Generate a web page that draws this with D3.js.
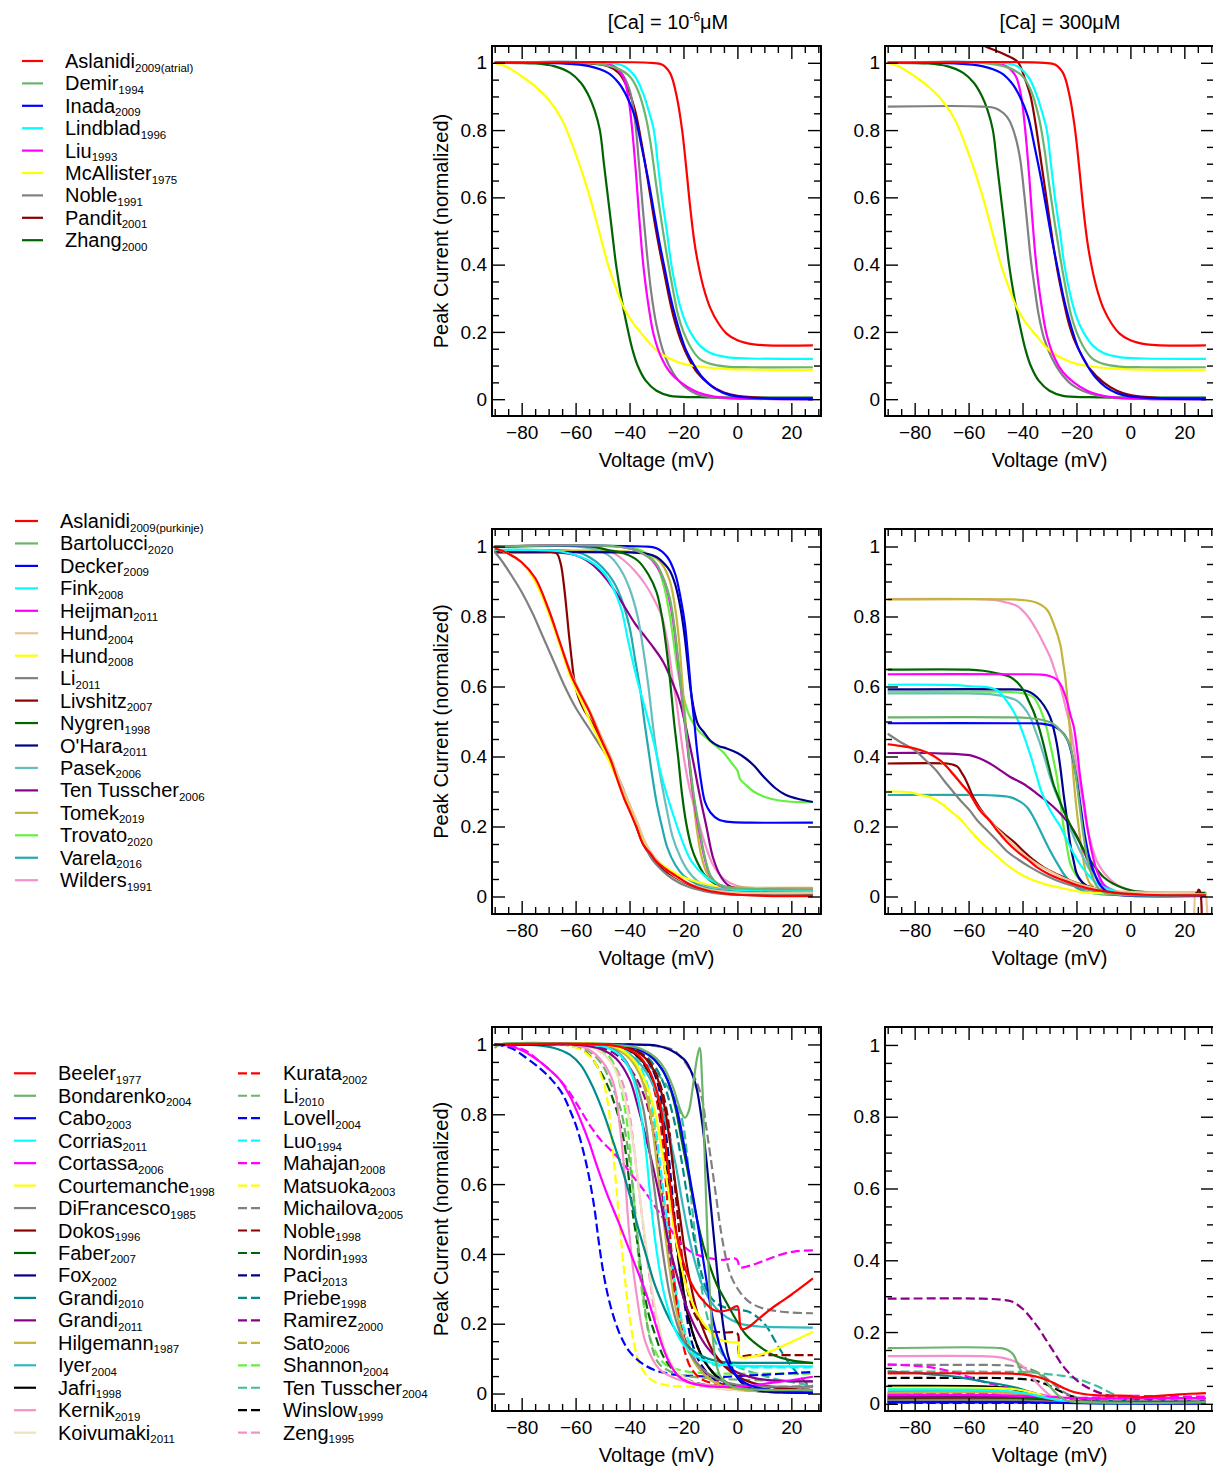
<!DOCTYPE html>
<html>
<head>
<meta charset="utf-8">
<style>
  body { margin: 0; background: #fff; overflow: hidden; }
  svg { display: block; font-family: "Liberation Sans", Arial, Helvetica, sans-serif; }
  .tick line { stroke: #000; stroke-width: 1.4px; }
  .tick text { font-size: 19px; fill: #000; font-family: "Liberation Sans", Arial, Helvetica, sans-serif; }
  .domain { display: none; }
  .frame { fill: none; stroke: #000; stroke-width: 2px; }
  .curve { fill: none; stroke-width: 2.2px; }
  .lbl { font-size: 20px; fill: #000; }
</style>
</head>
<body>
<script src="https://d3js.org/d3.v7.min.js"></script>
<script>
// ---------- legends ----------
var atrialNames = ["Aslanidi","Demir","Inada","Lindblad","Liu","McAllister","Noble","Pandit","Zhang"];
var atrialYears = ["2009(atrial)","1994","2009","1996","1993","1975","1991","2001","2000"];
var atrialColors = ["#ff0000","#6cb36c","#0000ff","#00ffff","#ff00ff","#ffff00","#808080","#8b0000","#006400"];

var purkNames = ["Aslanidi","Bartolucci","Decker","Fink","Heijman","Hund","Hund","Li","Livshitz","Nygren","O'Hara","Pasek","Ten Tusscher","Tomek","Trovato","Varela","Wilders"];
var purkYears = ["2009(purkinje)","2020","2009","2008","2011","2004","2008","2011","2007","1998","2011","2006","2006","2019","2020","2016","1991"];
var purkColors = ["#ff0000","#6cb36c","#0000ff","#00ffff","#ff00ff","#e6c796","#ffff00","#808080","#8b0000","#006400","#00008b","#66bebe","#8b008b","#c3b43c","#64f03c","#22aab0","#f591c8"];

var ventNames = ["Beeler","Bondarenko","Cabo","Corrias","Cortassa","Courtemanche","DiFrancesco","Dokos","Faber","Fox","Grandi","Grandi","Hilgemann","Iyer","Jafri","Kernik","Koivumaki",
  "Kurata","Li","Lovell","Luo","Mahajan","Matsuoka","Michailova","Noble","Nordin","Paci","Priebe","Ramirez","Sato","Shannon","Ten Tusscher","Winslow","Zeng"];
var ventYears = ["1977","2004","2003","2011","2006","1998","1985","1996","2007","2002","2010","2011","1987","2004","1998","2019","2011",
  "2002","2010","2004","1994","2008","2003","2005","1998","1993","2013","1998","2000","2006","2004","2004","1999","1995"];
var ventColors = ["#ff0000","#6cb36c","#0000ff","#00ffff","#ff00ff","#ffff00","#808080","#8b0000","#006400","#00008b","#008b8b","#8b008b","#c3b43c","#33b8c0","#000000","#f591c8","#f2dfc0",
  "#ff0000","#6cb36c","#0000ff","#00ffff","#ff00ff","#ffff00","#808080","#8b0000","#006400","#00008b","#008b8b","#8b008b","#c3b43c","#64f03c","#3cbf9c","#000000","#f591c8"];
var ventDashed = [0,0,0,0,0,0,0,0,0,0,0,0,0,0,0,0,0, 1,1,1,1,1,1,1,1,1,1,1,1,1,1,1,1,1];

var xMajor = [-80,-60,-40,-20,0,20];
var xMinor = [-90,-85,-75,-70,-65,-55,-50,-45,-35,-30,-25,-15,-10,-5,5,10,15,25,30];
var yMajor = [0,0.2,0.4,0.6,0.8,1];
var yMinor = [0.05,0.1,0.15,0.25,0.3,0.35,0.45,0.5,0.55,0.65,0.7,0.75,0.85,0.9,0.95];

// ---------- row 1: atrial ----------
var atrialLowCa = [
  [[-90,1],[-32,1],[-28,0.995],[-25,0.97],[-22.5,0.9],[-20.5,0.8],[-19,0.69],[-17.5,0.57],[-16,0.47],[-14.5,0.4],[-12.5,0.33],[-10,0.27],[-7,0.225],[-4,0.195],[0,0.175],[6,0.163],[28,0.16]],
  [[-90,1],[-55,1],[-45,0.985],[-40,0.96],[-37,0.92],[-34,0.84],[-32,0.75],[-30,0.63],[-28,0.52],[-26,0.42],[-24,0.33],[-22,0.25],[-20,0.2],[-17,0.15],[-14,0.12],[-10,0.105],[-4,0.097],[5,0.095],[28,0.095]],
  [[-90,1],[-65,0.998],[-55,0.99],[-48,0.97],[-44,0.94],[-41,0.9],[-38,0.84],[-35.5,0.75],[-33,0.65],[-31,0.56],[-29,0.47],[-27,0.39],[-25,0.31],[-23,0.245],[-21,0.19],[-19,0.145],[-16,0.1],[-13,0.065],[-9,0.035],[-5,0.018],[0,0.008],[10,0.002],[28,0]],
  [[-90,1],[-48,1],[-42,0.99],[-38,0.96],[-35,0.91],[-33,0.86],[-31,0.8],[-29.5,0.7],[-28,0.6],[-26,0.49],[-24.5,0.4],[-22,0.3],[-20,0.245],[-17.5,0.2],[-14,0.16],[-10,0.137],[-4,0.125],[5,0.121],[28,0.12]],
  [[-90,1],[-52,1],[-46,0.99],[-42.5,0.96],[-40.5,0.9],[-39,0.8],[-37.5,0.66],[-36.5,0.55],[-35.5,0.45],[-34.5,0.37],[-33,0.28],[-31,0.19],[-28,0.12],[-25,0.08],[-21,0.05],[-16,0.025],[-10,0.01],[-3,0.003],[5,0.001],[28,0]],
  [[-90,1],[-86,0.99],[-80,0.96],[-75,0.93],[-70,0.89],[-65,0.83],[-60,0.73],[-57,0.66],[-54,0.58],[-51,0.49],[-48,0.4],[-45,0.33],[-42,0.27],[-39,0.23],[-35,0.19],[-30,0.145],[-25,0.12],[-20,0.105],[-12,0.095],[-5,0.09],[5,0.088],[28,0.087]],
  [[-90,1],[-55,1],[-47,0.995],[-43,0.97],[-40,0.92],[-38,0.83],[-36.5,0.7],[-35,0.56],[-33.5,0.43],[-32,0.32],[-30,0.22],[-27,0.13],[-24,0.08],[-20,0.04],[-15,0.015],[-8,0.005],[5,0.001],[28,0]],
  [[-90,1],[-55,0.998],[-48,0.99],[-44,0.97],[-41,0.93],[-38,0.86],[-35.5,0.76],[-33,0.64],[-31,0.54],[-29,0.45],[-27,0.37],[-25,0.29],[-23,0.225],[-21,0.175],[-18,0.12],[-15,0.08],[-10,0.042],[-5,0.02],[0,0.01],[10,0.004],[28,0.002]],
  [[-90,1],[-75,0.998],[-68,0.99],[-62,0.97],[-58,0.94],[-55,0.9],[-53,0.86],[-51,0.8],[-49.5,0.7],[-48,0.6],[-46.5,0.5],[-45,0.4],[-43,0.3],[-41,0.22],[-39,0.15],[-37,0.1],[-34,0.055],[-30,0.025],[-25,0.01],[-15,0.006],[28,0.005]]
];
var nobleHighCa = [[-90,0.87],[-55,0.87],[-50,0.865],[-47,0.85],[-45,0.83],[-43,0.79],[-41,0.72],[-39.5,0.62],[-38,0.5],[-37,0.42],[-35.5,0.33],[-34,0.25],[-32,0.18],[-29,0.12],[-26,0.08],[-22,0.045],[-16,0.02],[-8,0.006],[5,0.001],[28,0]];
var panditHighCa = [[-90,1.2],[-70,1.13],[-60,1.08],[-54,1.05],[-48,1.03],[-44,1.015],[-41.5,1],[-39,0.95],[-37,0.9],[-35,0.81],[-33,0.7],[-31,0.59],[-29,0.48],[-27,0.38],[-25,0.3],[-23,0.23],[-21,0.18],[-18,0.13],[-15,0.09],[-10,0.05],[-5,0.025],[0,0.012],[10,0.004],[28,0.002]];
var atrialHighCa = atrialLowCa.map(function(s, i) { return i === 6 ? nobleHighCa : i === 7 ? panditHighCa : s; });

// ---------- row 2: purkinje ----------
var purkLowCa = [
  [[-90,0.995],[-85,0.98],[-80,0.955],[-75,0.91],[-70,0.82],[-66,0.73],[-61.5,0.63],[-58,0.575],[-55,0.53],[-50,0.44],[-47,0.39],[-45,0.345],[-42,0.28],[-40,0.245],[-37.5,0.2],[-35,0.15],[-32,0.12],[-30,0.1],[-26,0.075],[-22,0.055],[-17,0.032],[-11,0.017],[-5,0.009],[0,0.005],[10,0.002],[28,0.001]],
  [[-90,1],[-45,1],[-38,0.99],[-33,0.97],[-30,0.95],[-27,0.9],[-25,0.85],[-23.5,0.78],[-22,0.68],[-20.5,0.57],[-19,0.47],[-17.5,0.37],[-16,0.28],[-14,0.19],[-12,0.11],[-10,0.06],[-7,0.035],[-3,0.025],[5,0.022],[28,0.02]],
  [[-90,1],[-35,1],[-30,0.995],[-26,0.97],[-23,0.92],[-21,0.85],[-19.5,0.78],[-18,0.66],[-17,0.57],[-16,0.5],[-15,0.42],[-13.5,0.33],[-12,0.27],[-10,0.24],[-7,0.22],[-3,0.213],[5,0.211],[28,0.211]],
  [[-90,0.99],[-75,0.99],[-65,0.985],[-58,0.97],[-53,0.95],[-49,0.92],[-46,0.88],[-43,0.82],[-40.5,0.73],[-37.5,0.63],[-34,0.53],[-31,0.44],[-28,0.34],[-24.5,0.25],[-20,0.15],[-17,0.1],[-12,0.058],[-7,0.035],[-2,0.022],[5,0.018],[28,0.016]],
  [[-90,1],[-45,1],[-38,0.99],[-33,0.97],[-30,0.945],[-27,0.9],[-25,0.84],[-23.5,0.77],[-22,0.67],[-20.5,0.56],[-19,0.46],[-17.5,0.36],[-16,0.27],[-14,0.18],[-12,0.105],[-10,0.058],[-7,0.033],[-3,0.024],[5,0.021],[28,0.02]],
  [[-90,0.995],[-85,0.98],[-80,0.955],[-75,0.91],[-70,0.82],[-66,0.73],[-61.5,0.635],[-58,0.58],[-55,0.535],[-50,0.45],[-47,0.4],[-45,0.36],[-42,0.3],[-39.5,0.255],[-37,0.21],[-34.5,0.16],[-31.5,0.12],[-28,0.088],[-24,0.062],[-19,0.04],[-12,0.022],[-5,0.014],[5,0.01],[28,0.01]],
  [[-90,0.995],[-85,0.98],[-80,0.955],[-75,0.9],[-70,0.81],[-66,0.72],[-62,0.63],[-58,0.56],[-54,0.49],[-50,0.425],[-46,0.36],[-43,0.305],[-40,0.25],[-37,0.195],[-34,0.145],[-30,0.105],[-25,0.075],[-20,0.055],[-14,0.04],[-8,0.03],[0,0.024],[10,0.022],[28,0.021]],
  [[-90,0.985],[-87,0.955],[-84,0.92],[-80,0.87],[-76,0.81],[-72,0.74],[-68,0.67],[-64,0.6],[-60,0.54],[-55,0.48],[-50,0.42],[-46,0.37],[-43,0.32],[-41,0.28],[-39,0.24],[-37,0.2],[-35,0.16],[-32,0.11],[-28,0.075],[-24,0.05],[-18,0.027],[-10,0.012],[0,0.005],[28,0.002]],
  [[-90,0.985],[-70,0.985],[-67,0.98],[-65.5,0.95],[-64.5,0.9],[-63.5,0.83],[-62.5,0.75],[-61.5,0.68],[-60.5,0.62],[-59,0.57],[-57,0.535],[-55,0.51],[-52,0.47],[-50,0.44],[-47,0.39],[-45,0.35],[-42,0.29],[-40,0.25],[-37.5,0.2],[-35,0.15],[-32,0.115],[-28,0.08],[-22,0.05],[-15,0.025],[-8,0.012],[0,0.006],[28,0.003]],
  [[-90,1],[-55,1],[-48,0.99],[-42,0.98],[-37,0.96],[-33,0.92],[-30,0.87],[-28,0.8],[-26.5,0.72],[-25,0.62],[-23.5,0.5],[-22,0.4],[-20.5,0.29],[-19,0.21],[-17,0.14],[-15,0.1],[-12,0.06],[-8,0.035],[-3,0.025],[5,0.022],[28,0.02]],
  [[-90,0.983],[-40,0.983],[-34,0.98],[-30,0.97],[-27,0.95],[-25,0.93],[-23,0.89],[-21,0.82],[-19.5,0.74],[-18.5,0.67],[-17.5,0.6],[-16,0.53],[-14.5,0.49],[-12.5,0.47],[-10,0.445],[-7,0.43],[-4,0.423],[0,0.41],[3,0.395],[6,0.375],[10,0.34],[14,0.31],[18,0.29],[22,0.28],[28,0.27]],
  [[-90,1],[-60,1],[-52,0.99],[-47,0.97],[-43,0.93],[-40,0.88],[-37,0.8],[-35,0.71],[-33,0.6],[-31.5,0.5],[-30,0.41],[-28,0.32],[-26,0.24],[-24,0.17],[-21,0.11],[-18,0.07],[-14,0.04],[-8,0.025],[0,0.02],[28,0.02]],
  [[-90,0.99],[-70,0.985],[-60,0.975],[-54,0.95],[-50,0.92],[-46,0.88],[-42,0.83],[-38,0.78],[-35,0.75],[-31,0.71],[-27.5,0.67],[-24,0.61],[-21.5,0.56],[-19,0.48],[-16.5,0.39],[-14,0.29],[-11.5,0.2],[-9,0.11],[-6,0.055],[-3,0.03],[2,0.02],[28,0.015]],
  [[-90,0.985],[-40,0.985],[-32,0.975],[-28,0.95],[-25,0.9],[-23,0.82],[-21.5,0.72],[-20.3,0.6],[-19,0.48],[-17.7,0.37],[-16.3,0.27],[-15,0.19],[-13.5,0.12],[-11.5,0.07],[-9,0.042],[-5,0.03],[0,0.026],[28,0.025]],
  [[-90,1],[-42,1],[-36,0.99],[-32,0.97],[-29,0.93],[-27,0.88],[-25,0.8],[-23.5,0.72],[-22,0.64],[-20,0.57],[-18,0.52],[-16,0.49],[-14,0.47],[-11,0.45],[-8,0.43],[-5,0.41],[-2,0.38],[0,0.36],[1,0.335],[3,0.32],[6,0.3],[10,0.285],[15,0.275],[22,0.27],[28,0.27]],
  [[-90,0.99],[-70,0.99],[-60,0.985],[-55,0.97],[-50,0.94],[-46,0.9],[-43,0.85],[-40,0.77],[-38,0.68],[-36,0.59],[-34.5,0.5],[-33,0.42],[-31.5,0.34],[-30,0.27],[-28,0.2],[-26,0.14],[-23,0.09],[-20,0.06],[-15,0.035],[-10,0.022],[0,0.015],[28,0.012]],
  [[-90,1],[-55,1],[-48,0.99],[-42,0.96],[-38,0.93],[-34,0.89],[-31,0.85],[-28,0.8],[-26,0.73],[-24,0.62],[-22.5,0.55],[-21,0.46],[-19.5,0.38],[-17.5,0.3],[-15,0.23],[-12,0.15],[-9,0.09],[-5,0.05],[0,0.03],[10,0.022],[28,0.02]]
];
var purkHighCa = [
  [[-90,0.435],[-85,0.43],[-80,0.423],[-75,0.41],[-70.7,0.39],[-68,0.37],[-65.8,0.35],[-62.5,0.32],[-59.6,0.294],[-55.8,0.246],[-52,0.215],[-49.6,0.19],[-46,0.158],[-42.2,0.13],[-38,0.105],[-34.7,0.084],[-30,0.063],[-24.8,0.046],[-20,0.033],[-14.9,0.022],[-8,0.013],[-2.5,0.008],[5,0.005],[28,0.003]],
  [[-90,0.512],[-45,0.512],[-38,0.51],[-33,0.505],[-29,0.495],[-26,0.475],[-23.5,0.45],[-22,0.42],[-20.5,0.36],[-19,0.27],[-17.5,0.18],[-16,0.11],[-14.5,0.065],[-12.5,0.03],[-10,0.012],[-5,0.005],[28,0.004]],
  [[-90,0.495],[-40,0.495],[-33,0.494],[-29,0.488],[-26,0.475],[-23.5,0.45],[-21.5,0.4],[-20,0.34],[-18.5,0.26],[-17,0.18],[-15.5,0.12],[-13.5,0.07],[-11,0.03],[-8,0.01],[-3,0.003],[28,0.002]],
  [[-90,0.605],[-65,0.604],[-58,0.6],[-53,0.598],[-49.6,0.59],[-46.5,0.565],[-43.4,0.53],[-41,0.49],[-38.5,0.437],[-36.5,0.39],[-34.7,0.342],[-33,0.3],[-31,0.265],[-28.5,0.23],[-26,0.2],[-23.5,0.16],[-21,0.122],[-18.5,0.09],[-16,0.065],[-13,0.042],[-10,0.027],[-6,0.014],[0,0.006],[28,0.004]],
  [[-90,0.635],[-40,0.635],[-33,0.634],[-30,0.63],[-27.3,0.62],[-25.5,0.6],[-23.6,0.56],[-22.3,0.52],[-21,0.485],[-19.8,0.42],[-18.6,0.34],[-17.3,0.27],[-16,0.2],[-14.5,0.135],[-12.5,0.075],[-10,0.035],[-7.5,0.017],[-4,0.008],[28,0.005]],
  [[-90,0.435],[-85,0.43],[-80,0.424],[-75,0.41],[-71,0.39],[-68,0.37],[-65.5,0.35],[-62.5,0.32],[-59.5,0.29],[-56,0.25],[-52,0.215],[-49,0.19],[-45,0.16],[-41,0.13],[-37,0.105],[-33,0.085],[-28,0.065],[-23,0.047],[-18,0.033],[-12,0.022],[-5,0.015],[5,0.012],[15,0.012],[22,0.012],[23.2,0.012],[23.6,0.012],[24,-0.3],[27.7,-0.3],[28,0.012]],
  [[-90,0.3],[-82,0.298],[-78,0.29],[-74.4,0.284],[-70,0.265],[-67,0.246],[-63,0.22],[-59.6,0.19],[-56,0.16],[-52,0.132],[-48,0.105],[-44.7,0.084],[-41,0.065],[-37.2,0.05],[-32,0.036],[-27.3,0.027],[-22,0.018],[-17.4,0.012],[-10,0.009],[-6,0.008],[28,0.006]],
  [[-90,0.465],[-85,0.44],[-80,0.418],[-76,0.39],[-72,0.36],[-69,0.33],[-65.8,0.3],[-62.5,0.27],[-59.6,0.246],[-56.5,0.215],[-53.3,0.19],[-49.5,0.16],[-45.9,0.13],[-41.5,0.105],[-37.2,0.084],[-32,0.062],[-27.3,0.046],[-22,0.032],[-17.4,0.022],[-12,0.014],[-6.2,0.008],[5,0.004],[28,0.003]],
  [[-90,0.38],[-68,0.38],[-66,0.377],[-64,0.37],[-62.7,0.355],[-61.5,0.34],[-60,0.315],[-58.3,0.284],[-56,0.255],[-53.3,0.227],[-50,0.2],[-47,0.18],[-43,0.155],[-39.7,0.13],[-36,0.105],[-32.3,0.084],[-27,0.063],[-22.3,0.046],[-17,0.032],[-12.4,0.022],[-6,0.013],[0,0.008],[10,0.006],[20,0.006],[23.5,0.006],[24.5,0.006],[25.3,0.02],[25.9,0.013],[26.2,-0.3]],
  [[-90,0.648],[-60,0.648],[-54.6,0.645],[-49.5,0.638],[-44.7,0.628],[-42,0.612],[-39.7,0.59],[-37.8,0.56],[-36,0.53],[-34,0.485],[-32.3,0.437],[-30.5,0.38],[-28.5,0.32],[-26.5,0.28],[-24.8,0.246],[-22.3,0.205],[-19.9,0.17],[-17.4,0.135],[-14.9,0.103],[-12.4,0.077],[-9.9,0.055],[-6.5,0.037],[-3.7,0.027],[1,0.016],[6,0.012],[28,0.01]],
  [[-90,0.592],[-45,0.592],[-40,0.59],[-37,0.583],[-34.7,0.57],[-32,0.545],[-29.8,0.513],[-28.5,0.48],[-27.3,0.437],[-26,0.37],[-24.8,0.294],[-23.5,0.22],[-22.3,0.15],[-21,0.1],[-19.9,0.065],[-18,0.042],[-16.1,0.03],[-14.5,0.025]],
  [[-90,0.58],[-60,0.58],[-52,0.578],[-47,0.572],[-42.2,0.56],[-39.5,0.54],[-37.2,0.513],[-35.3,0.475],[-33.5,0.437],[-31.6,0.39],[-29.8,0.342],[-27.3,0.29],[-24.8,0.246],[-22.3,0.195],[-19.9,0.15],[-17.4,0.11],[-14.9,0.074],[-11.8,0.047],[-8.7,0.027],[-4,0.012],[0,0.007],[28,0.005]],
  [[-90,0.41],[-75,0.41],[-68,0.408],[-63,0.406],[-59.6,0.404],[-56,0.395],[-52.1,0.38],[-48.5,0.362],[-44.7,0.342],[-39.7,0.322],[-34.7,0.294],[-29.8,0.265],[-24.8,0.227],[-21.1,0.19],[-19.2,0.162],[-17.4,0.132],[-15.5,0.097],[-13.6,0.065],[-11.2,0.036],[-8.7,0.017],[-5,0.008],[0,0.005],[28,0.004]],
  [[-90,0.849],[-45,0.849],[-39.7,0.847],[-35,0.84],[-31,0.82],[-28.5,0.78],[-26,0.72],[-25,0.67],[-24.2,0.63],[-23,0.53],[-22,0.43],[-21.1,0.34],[-20.1,0.26],[-19.2,0.2],[-17.8,0.12],[-16.1,0.055],[-14.8,0.035],[-13.6,0.027]],
  [[-90,0.585],[-48,0.585],[-42,0.583],[-38.5,0.578],[-36,0.57],[-34,0.545],[-32.3,0.513],[-31,0.48],[-29.8,0.437],[-28.5,0.39],[-27.3,0.342],[-26,0.27],[-24.8,0.2],[-23.5,0.14],[-22.3,0.094],[-20.5,0.065],[-18.6,0.046],[-17,0.035]],
  [[-90,0.29],[-55,0.29],[-49.6,0.288],[-44.7,0.284],[-42,0.276],[-39.7,0.265],[-37.8,0.25],[-36,0.227],[-34.2,0.2],[-32.3,0.17],[-30.4,0.14],[-28.5,0.113],[-26.6,0.088],[-24.8,0.065],[-22.3,0.041],[-20,0.025],[-16,0.012],[-10,0.006],[0,0.004],[28,0.003]],
  [[-90,0.85],[-58,0.85],[-51,0.848],[-46,0.84],[-42,0.83],[-38,0.8],[-34.7,0.76],[-32,0.72],[-29.8,0.685],[-28,0.645],[-26,0.6],[-24,0.54],[-22.3,0.485],[-20.7,0.41],[-19.2,0.34],[-17.6,0.27],[-16.1,0.2],[-14.3,0.145],[-12.4,0.1],[-9.5,0.065],[-6.2,0.04],[-3,0.025],[0,0.017],[5,0.013],[28,0.012]]
];

// ---------- row 3: ventricular and others ----------
var ventLowCa = [
  [[-90,1],[-50,1],[-42,0.99],[-37,0.97],[-33,0.93],[-30,0.87],[-28,0.8],[-26.5,0.7],[-25,0.6],[-23.5,0.5],[-21.5,0.42],[-19,0.35],[-16,0.3],[-12,0.26],[-9,0.24],[-6,0.235],[-3,0.24],[0,0.25],[1.5,0.185],[4,0.19],[8,0.215],[12,0.24],[16,0.262],[20,0.283],[24,0.306],[28,0.33]],
  [[-90,0.99],[-88,1],[-50,1],[-40,0.995],[-35,0.985],[-30,0.96],[-27,0.93],[-24,0.88],[-21,0.81],[-19.5,0.79],[-18,0.81],[-16.5,0.88],[-15,0.96],[-14,0.99],[-13,0.88],[-12,0.65],[-11,0.42],[-10,0.26],[-9,0.15],[-8,0.09],[-6,0.045],[-2,0.02],[5,0.012],[28,0.01]],
  [[-90,1],[-50,1],[-40,0.995],[-33,0.97],[-28,0.93],[-25,0.88],[-22,0.8],[-19.5,0.7],[-17,0.59],[-15,0.5],[-13,0.4],[-11,0.3],[-9,0.21],[-6.5,0.14],[-3,0.08],[1,0.04],[6,0.02],[12,0.01],[28,0.003]],
  [[-90,1],[-55,1],[-48,0.99],[-43,0.965],[-39,0.91],[-36,0.81],[-34,0.7],[-32.5,0.58],[-31,0.47],[-29,0.36],[-27,0.28],[-24,0.2],[-20,0.14],[-16,0.11],[-12,0.095],[-8,0.085],[0,0.08],[28,0.078]],
  [[-90,1],[-84,0.995],[-79,0.98],[-74,0.955],[-70,0.93],[-66,0.9],[-62,0.85],[-58,0.78],[-55,0.72],[-52,0.65],[-48.5,0.575],[-43.5,0.48],[-38.5,0.38],[-34,0.29],[-30,0.19],[-27.5,0.13],[-25,0.085],[-22,0.05],[-18,0.032],[-12,0.022],[-4,0.019],[2,0.02],[10,0.028],[20,0.038],[28,0.048]],
  [[-90,1],[-50,1],[-43,0.985],[-38,0.95],[-34,0.89],[-31,0.82],[-29,0.74],[-27,0.65],[-25,0.55],[-23.5,0.47],[-21.5,0.39],[-19,0.31],[-15.5,0.24],[-11.5,0.19],[-6.5,0.155],[-2,0.147],[0.3,0.145],[0.8,0.105],[5,0.105],[10,0.115],[15,0.13],[20,0.148],[24,0.162],[28,0.177]],
  [[-90,1],[-55,1],[-47,0.99],[-42,0.96],[-38,0.9],[-35,0.82],[-33,0.72],[-31,0.6],[-29,0.48],[-27,0.37],[-25,0.28],[-22,0.19],[-18,0.12],[-13,0.07],[-7,0.04],[0,0.025],[28,0.02]],
  [[-90,1],[-50,1],[-40,0.99],[-34,0.96],[-30,0.91],[-27,0.82],[-25,0.72],[-23,0.6],[-21,0.49],[-19,0.38],[-17,0.3],[-15,0.235],[-12,0.17],[-9,0.12],[-5,0.08],[0,0.05],[5,0.032],[12,0.02],[20,0.013],[28,0.01]],
  [[-90,1],[-45,1],[-38,0.99],[-33,0.975],[-29,0.94],[-26,0.9],[-23,0.82],[-21,0.74],[-19,0.66],[-17,0.58],[-15,0.5],[-12.5,0.42],[-10,0.36],[-7.5,0.31],[-4,0.26],[0,0.205],[3,0.17],[6,0.148],[10,0.125],[14,0.108],[20,0.095],[28,0.087]],
  [[-90,1],[-40,1],[-30,0.997],[-25,0.985],[-21,0.965],[-19,0.95],[-16.5,0.91],[-15,0.87],[-13.5,0.8],[-12.5,0.74],[-11,0.63],[-10,0.55],[-9,0.47],[-8,0.39],[-7,0.31],[-6,0.24],[-5,0.18],[-3.5,0.11],[-1.5,0.065],[1,0.035],[4,0.018],[10,0.006],[28,0.002]],
  [[-90,1],[-75,0.998],[-68,0.99],[-62,0.97],[-58,0.94],[-55,0.9],[-52,0.85],[-49,0.79],[-46,0.72],[-43,0.65],[-40,0.57],[-37,0.48],[-34,0.4],[-31,0.32],[-28,0.26],[-25,0.21],[-21,0.16],[-16,0.12],[-11,0.1],[-5,0.09],[5,0.088],[28,0.088]],
  [[-90,1],[-60,1],[-50,0.985],[-45,0.96],[-40,0.9],[-36.5,0.81],[-33.5,0.72],[-31,0.64],[-28.5,0.55],[-26,0.45],[-23.5,0.37],[-21,0.3],[-18.5,0.24],[-15,0.18],[-11,0.13],[-6,0.09],[0,0.06],[6,0.045],[14,0.037],[28,0.035]],
  [[-90,1],[-55,1],[-46,0.99],[-40,0.96],[-36,0.91],[-33,0.83],[-31,0.73],[-29,0.6],[-27,0.47],[-25,0.35],[-23,0.25],[-20,0.16],[-16,0.09],[-11,0.045],[-5,0.02],[5,0.008],[28,0.005]],
  [[-90,1],[-55,1],[-45,0.99],[-38,0.96],[-33,0.91],[-29,0.84],[-26,0.76],[-23,0.66],[-20.5,0.55],[-18,0.45],[-15.5,0.37],[-13,0.31],[-10,0.265],[-6,0.23],[-2,0.21],[2,0.198],[8,0.192],[15,0.19],[28,0.189]],
  [[-90,1],[-50,1],[-42,0.99],[-36,0.96],[-32,0.91],[-29,0.83],[-27,0.73],[-25,0.6],[-23,0.47],[-21,0.35],[-19,0.25],[-16,0.16],[-12,0.09],[-7,0.045],[0,0.02],[10,0.008],[28,0.005]],
  [[-90,1],[-62,1],[-55,0.985],[-50,0.95],[-46,0.89],[-43.5,0.76],[-41.7,0.62],[-40,0.45],[-37.5,0.29],[-34,0.145],[-29,0.07],[-22,0.04],[-12,0.025],[0,0.02],[28,0.018]],
  [[-90,1],[-60,1],[-52,0.985],[-47,0.95],[-43,0.88],[-40,0.78],[-37.5,0.65],[-35.5,0.52],[-33.5,0.4],[-31.5,0.29],[-29,0.19],[-26,0.11],[-22,0.06],[-16,0.03],[-8,0.015],[0,0.01],[28,0.008]],
  [[-90,1],[-50,1],[-42,0.99],[-36,0.96],[-32,0.9],[-29,0.8],[-27,0.65],[-25.5,0.5],[-24,0.37],[-22.5,0.26],[-21,0.18],[-19.5,0.12],[-17,0.07],[-13,0.04],[-6,0.025],[0,0.02],[28,0.02]],
  [[-90,1],[-62,1],[-55,0.98],[-50,0.94],[-46.5,0.88],[-43.5,0.82],[-41,0.72],[-38.5,0.57],[-36.8,0.43],[-35,0.29],[-32.5,0.16],[-29,0.085],[-22,0.055],[-12,0.045],[0,0.04],[28,0.035]],
  [[-90,1],[-84,0.99],[-78,0.96],[-73,0.93],[-69,0.9],[-65,0.86],[-62,0.81],[-59.5,0.76],[-57,0.69],[-55,0.62],[-53,0.53],[-51.5,0.44],[-50,0.36],[-48,0.28],[-45.5,0.21],[-43,0.16],[-40,0.12],[-36,0.09],[-31,0.068],[-24,0.055],[-15,0.05],[-5,0.048],[5,0.052],[15,0.056],[28,0.062]],
  [[-90,1],[-50,1],[-43,0.99],[-38,0.96],[-34,0.9],[-31,0.8],[-29,0.68],[-27,0.55],[-25,0.42],[-23,0.31],[-21,0.22],[-18,0.15],[-14,0.1],[-10,0.085],[-5,0.078],[5,0.075],[28,0.075]],
  [[-90,1],[-84,0.995],[-78,0.98],[-74,0.955],[-70,0.93],[-66,0.9],[-62,0.86],[-58,0.81],[-54,0.76],[-50,0.72],[-46,0.69],[-42,0.655],[-38,0.615],[-34,0.575],[-30,0.53],[-26,0.485],[-22,0.44],[-18,0.41],[-14,0.395],[-10,0.387],[-5,0.383],[-1,0.387],[0,0.382],[1,0.362],[4,0.365],[8,0.375],[12,0.387],[17,0.4],[22,0.408],[28,0.41]],
  [[-90,1],[-65,1],[-58,0.985],[-53,0.95],[-50,0.9],[-48,0.83],[-46.5,0.72],[-45,0.6],[-43.5,0.47],[-42,0.35],[-40.5,0.25],[-38.5,0.15],[-36,0.08],[-32,0.04],[-27,0.025],[-20,0.02],[28,0.02]],
  [[-90,1],[-40,1],[-30,0.995],[-24,0.985],[-20,0.955],[-17,0.92],[-15,0.89],[-13,0.84],[-11.5,0.76],[-10,0.68],[-8,0.57],[-6,0.46],[-4,0.38],[-2,0.33],[1,0.29],[4,0.265],[8,0.248],[14,0.237],[20,0.232],[28,0.23]],
  [[-90,1],[-50,1],[-40,0.99],[-35,0.97],[-31,0.93],[-28,0.87],[-26,0.8],[-24.5,0.7],[-23,0.58],[-21.5,0.46],[-20,0.36],[-18,0.28],[-16,0.23],[-13,0.195],[-10,0.18],[-5,0.175],[0,0.172],[0.8,0.11],[5,0.11],[28,0.11]],
  [[-90,1],[-65,1],[-59,0.99],[-55,0.97],[-51,0.925],[-48,0.88],[-46,0.84],[-44,0.79],[-42,0.72],[-40,0.6],[-38.5,0.5],[-37,0.43],[-35,0.31],[-33,0.23],[-31,0.18],[-27,0.1],[-22,0.055],[-15,0.03],[-5,0.02],[28,0.018]],
  [[-90,1],[-50,1],[-40,0.99],[-34,0.96],[-30,0.9],[-27.5,0.8],[-25.5,0.68],[-24,0.56],[-22.5,0.44],[-21,0.33],[-19,0.23],[-17,0.15],[-14,0.09],[-10,0.05],[-4,0.02],[5,0.008],[28,0.003]],
  [[-90,1],[-50,1],[-40,0.99],[-33,0.96],[-28,0.9],[-24,0.8],[-21,0.68],[-18.5,0.56],[-16,0.44],[-13.5,0.35],[-11,0.29],[-8,0.26],[-4,0.245],[0,0.24],[4,0.235],[8,0.215],[11,0.19],[14,0.15],[18,0.1],[22,0.06],[25,0.035],[28,0.018]],
  [[-90,1],[-60,1],[-50,0.99],[-43,0.96],[-38,0.91],[-34,0.84],[-31,0.74],[-29,0.63],[-27,0.5],[-25,0.38],[-23,0.27],[-20.5,0.18],[-17,0.11],[-12,0.06],[-5,0.03],[5,0.015],[28,0.01]],
  [[-90,1],[-55,1],[-45,0.99],[-39,0.96],[-35,0.9],[-32,0.82],[-30,0.72],[-28,0.6],[-26,0.47],[-24,0.35],[-22,0.25],[-19,0.16],[-15,0.09],[-10,0.045],[-4,0.02],[5,0.01],[28,0.008]],
  [[-90,1],[-60,1],[-52,0.99],[-47,0.96],[-44,0.9],[-41,0.78],[-39,0.62],[-37.5,0.47],[-36,0.33],[-34,0.22],[-31,0.13],[-27,0.085],[-20,0.065],[-10,0.058],[0,0.057],[28,0.057]],
  [[-90,1],[-58,1],[-48,0.99],[-40,0.97],[-34,0.945],[-29,0.91],[-26,0.88],[-23,0.84],[-21,0.8],[-19.5,0.74],[-18,0.63],[-16.5,0.51],[-15,0.4],[-13,0.29],[-10.5,0.2],[-7,0.13],[-3,0.09],[2,0.07],[8,0.055],[15,0.04],[22,0.03],[28,0.022]],
  [[-90,1],[-50,1],[-42,0.99],[-37,0.965],[-33,0.92],[-30,0.85],[-28,0.76],[-26,0.64],[-24,0.51],[-22,0.39],[-20,0.29],[-17.5,0.2],[-14,0.12],[-9,0.06],[-2,0.025],[10,0.01],[28,0.006]],
  [[-90,1],[-60,1],[-52,0.985],[-47,0.955],[-43,0.9],[-40,0.8],[-38,0.68],[-36,0.55],[-34,0.42],[-32,0.3],[-30,0.2],[-27,0.12],[-23,0.065],[-18,0.035],[-10,0.018],[0,0.01],[28,0.008]]
];
var ventHighCa = [
  [[-90,0.085],[-50,0.085],[-44,0.084],[-38,0.08],[-33,0.072],[-29,0.06],[-25,0.045],[-21,0.033],[-16,0.026],[-10,0.023],[0,0.022],[1.5,0.018],[8,0.021],[16,0.025],[22,0.028],[28,0.03]],
  [[-90,0.155],[-48,0.155],[-45.5,0.15],[-43.5,0.138],[-42,0.115],[-40.5,0.092],[-39.5,0.085],[-37.5,0.09],[-35.5,0.09],[-33,0.078],[-30,0.05],[-27,0.025],[-24,0.01],[-20,0.005],[28,0.004]],
  [[-90,0.004],[-40,0.004],[-20,0.002],[28,0.001]],
  [[-90,0.04],[-55,0.039],[-45,0.035],[-38,0.028],[-32,0.018],[-26,0.009],[-20,0.004],[28,0.003]],
  [[-90,0.025],[-50,0.024],[-40,0.022],[-30,0.019],[-22,0.016],[-12,0.015],[0,0.016],[28,0.016]],
  [[-90,0.045],[-50,0.044],[-42,0.04],[-36,0.03],[-30,0.018],[-24,0.008],[-18,0.004],[28,0.003]],
  [[-90,0.01],[-40,0.01],[-25,0.004],[28,0.002]],
  [[-90,0.012],[-40,0.011],[-25,0.005],[28,0.003]],
  [[-90,0.016],[-40,0.015],[-25,0.008],[-15,0.005],[28,0.004]],
  [[-90,0.006],[-30,0.005],[-15,0.002],[28,0.001]],
  [[-90,0.09],[-80,0.086],[-74,0.082],[-65,0.076],[-56,0.064],[-46,0.051],[-41,0.042],[-37,0.032],[-33,0.023],[-29,0.014],[-25,0.008],[-20,0.004],[28,0.002]],
  [[-90,0.02],[-40,0.019],[-30,0.012],[-20,0.006],[28,0.004]],
  [[-90,0.03],[-45,0.03],[-35,0.02],[-25,0.008],[28,0.004]],
  [[-90,0.035],[-50,0.034],[-40,0.03],[-32,0.02],[-25,0.009],[-18,0.004],[28,0.003]],
  [[-90,0.05],[-55,0.049],[-48,0.046],[-42,0.038],[-36,0.026],[-30,0.015],[-24,0.008],[-18,0.005],[28,0.004]],
  [[-90,0.133],[-55,0.133],[-50,0.131],[-46,0.126],[-42,0.115],[-39,0.098],[-36,0.07],[-33,0.045],[-30,0.025],[-27,0.013],[-23,0.007],[-15,0.005],[28,0.004]],
  [[-90,0.012],[-40,0.011],[-25,0.005],[28,0.003]],
  [[-90,0.01],[-40,0.009],[-25,0.004],[28,0.002]],
  [[-90,0.014],[-45,0.013],[-30,0.006],[28,0.003]],
  [[-90,0.003],[28,0.002]],
  [[-90,0.02],[-45,0.019],[-32,0.01],[-22,0.004],[28,0.003]],
  [[-90,0.11],[-80,0.106],[-71,0.098],[-62,0.08],[-52,0.056],[-42,0.042],[-32,0.024],[-25,0.017],[-15,0.017],[-5,0.02],[0,0.022],[10,0.021],[20,0.02],[28,0.02]],
  [[-90,0.04],[-60,0.038],[-48,0.03],[-40,0.02],[-30,0.008],[28,0.004]],
  [[-90,0.108],[-50,0.108],[-44,0.106],[-38,0.098],[-33,0.082],[-29,0.058],[-25,0.034],[-21,0.02],[-15,0.013],[-5,0.01],[28,0.009]],
  [[-90,0.02],[-45,0.019],[-30,0.01],[-20,0.006],[28,0.005]],
  [[-90,0.012],[-50,0.011],[-35,0.006],[28,0.004]],
  [[-90,0.005],[28,0.003]],
  [[-90,0.03],[-45,0.029],[-35,0.022],[-25,0.012],[-15,0.008],[28,0.006]],
  [[-90,0.293],[-55,0.293],[-48,0.29],[-44,0.285],[-40,0.265],[-37,0.24],[-34,0.21],[-31,0.175],[-28,0.14],[-25,0.105],[-22,0.08],[-19,0.06],[-15,0.042],[-10,0.027],[-5,0.018],[0,0.013],[10,0.01],[28,0.009]],
  [[-90,0.028],[-45,0.027],[-32,0.015],[-22,0.006],[28,0.004]],
  [[-90,0.022],[-50,0.021],[-38,0.012],[-28,0.006],[28,0.004]],
  [[-90,0.09],[-45,0.089],[-38,0.088],[-31,0.083],[-25,0.078],[-20,0.07],[-16,0.06],[-12,0.048],[-8,0.033],[-4,0.02],[0,0.012],[10,0.008],[28,0.007]],
  [[-90,0.072],[-50,0.072],[-42,0.07],[-35,0.064],[-30,0.05],[-26,0.035],[-22,0.022],[-17,0.013],[-10,0.009],[28,0.008]],
  [[-90,0.022],[-50,0.021],[-35,0.012],[-25,0.006],[28,0.004]]
];

// ---------- layout ----------
var width = 1213, height = 1468;
var colX = [[492, 821], [885, 1214]];
var rowY = [[46, 416], [529, 914], [1027, 1411]];
var xDomain = [-91, 31];

var groups = [
  {names: atrialNames, years: atrialYears, colors: atrialColors, dashed: [], low: atrialLowCa, high: atrialHighCa, highDomain: [-0.05, 1.05]},
  {names: purkNames, years: purkYears, colors: purkColors, dashed: [], low: purkLowCa, high: purkHighCa, highDomain: [-0.05, 1.05]},
  {names: ventNames, years: ventYears, colors: ventColors, dashed: ventDashed, low: ventLowCa, high: ventHighCa, highDomain: [-0.02, 1.05]}
];

var svg = d3.select("body").append("svg")
    .attr("width", width)
    .attr("height", height);

function drawPanel(row, col, series, grp, yDomain) {
    var xa = colX[col][0], xb = colX[col][1];
    var ya = rowY[row][0], yb = rowY[row][1];
    var x = d3.scaleLinear().domain(xDomain).range([xa, xb]);
    var y = d3.scaleLinear().domain(yDomain).range([yb, ya]);

    var clipId = "clip" + row + "_" + col;
    svg.append("clipPath").attr("id", clipId)
      .append("rect").attr("x", xa).attr("y", ya).attr("width", xb - xa).attr("height", yb - ya);

    var line = d3.line()
        .x(function(d) { return x(d[0]); })
        .y(function(d) { return y(d[1]); })
        .curve(d3.curveCatmullRom.alpha(0.5));

    // later legend entries are drawn first, so the first entries end up on top
    var order = d3.range(series.length).reverse();
    svg.append("g").attr("clip-path", "url(#" + clipId + ")")
      .selectAll("path").data(order).join("path")
        .attr("class", "curve")
        .attr("d", function(i) { return line(series[i]); })
        .attr("stroke", function(i) { return grp.colors[i]; })
        .attr("stroke-dasharray", function(i) { return grp.dashed[i] ? "9,4" : null; });

    var fmt = d3.format("~g");
    // bottom
    svg.append("g").attr("transform", "translate(0," + yb + ")")
      .call(d3.axisBottom(x).tickValues(xMajor).tickSizeInner(-13).tickSizeOuter(0).tickPadding(10).tickFormat(fmt));
    svg.append("g").attr("transform", "translate(0," + yb + ")")
      .call(d3.axisBottom(x).tickValues(xMinor).tickSizeInner(-7).tickSizeOuter(0).tickFormat(""));
    // top
    svg.append("g").attr("transform", "translate(0," + ya + ")")
      .call(d3.axisTop(x).tickValues(xMajor).tickSizeInner(-13).tickSizeOuter(0).tickFormat(""));
    svg.append("g").attr("transform", "translate(0," + ya + ")")
      .call(d3.axisTop(x).tickValues(xMinor).tickSizeInner(-7).tickSizeOuter(0).tickFormat(""));
    // left
    svg.append("g").attr("transform", "translate(" + xa + ",0)")
      .call(d3.axisLeft(y).tickValues(yMajor).tickSizeInner(-13).tickSizeOuter(0).tickPadding(5).tickFormat(fmt));
    svg.append("g").attr("transform", "translate(" + xa + ",0)")
      .call(d3.axisLeft(y).tickValues(yMinor).tickSizeInner(-7).tickSizeOuter(0).tickFormat(""));
    // right
    svg.append("g").attr("transform", "translate(" + xb + ",0)")
      .call(d3.axisRight(y).tickValues(yMajor).tickSizeInner(-13).tickSizeOuter(0).tickFormat(""));
    svg.append("g").attr("transform", "translate(" + xb + ",0)")
      .call(d3.axisRight(y).tickValues(yMinor).tickSizeInner(-7).tickSizeOuter(0).tickFormat(""));

    svg.append("rect").attr("class", "frame")
      .attr("x", xa).attr("y", ya).attr("width", xb - xa).attr("height", yb - ya);

    svg.append("text").attr("class", "lbl")
      .attr("x", (xa + xb) / 2).attr("y", yb + 51)
      .attr("text-anchor", "middle")
      .text("Voltage (mV)");

    if (col === 0) {
        svg.append("text").attr("class", "lbl")
          .attr("text-anchor", "middle")
          .attr("transform", "translate(448," + ((ya + yb) / 2) + ")rotate(-90)")
          .text("Peak Current (normalized)");
    }
}

function drawLegend(grp, entries) {
    entries.forEach(function(e) {
        var i = e.i;
        svg.append("line")
          .attr("x1", e.x1).attr("x2", e.x2).attr("y1", e.y).attr("y2", e.y)
          .attr("stroke", grp.colors[i]).attr("stroke-width", 2.2)
          .attr("stroke-dasharray", grp.dashed[i] ? "9,4" : null);
        var t = svg.append("text").attr("class", "lbl").attr("x", e.tx).attr("y", e.y + 7);
        t.append("tspan").text(grp.names[i]);
        t.append("tspan").attr("dy", 3.5).style("font-size", "11.5px").text(grp.years[i]);
    });
}

groups.forEach(function(grp, r) {
    drawPanel(r, 0, grp.low, grp, [-0.05, 1.05]);
    drawPanel(r, 1, grp.high, grp, grp.highDomain);
});

// titles
[["10", "-6", "μM", 668], ["300", null, "μM", 1060]].forEach(function(tt) {
    var t = svg.append("text").attr("class", "lbl").attr("x", tt[3]).attr("y", 29).attr("text-anchor", "middle");
    t.append("tspan").text("[Ca] = " + tt[0]);
    if (tt[1]) {
        t.append("tspan").attr("dy", -8).style("font-size", "12px").text(tt[1]);
        t.append("tspan").attr("dy", 8).text(tt[2]);
    } else {
        t.append("tspan").text(tt[2]);
    }
});

// legends
drawLegend(groups[0], atrialNames.map(function(d, i) {
    return {i: i, x1: 22, x2: 43, tx: 65, y: 61 + i * 22.4};
}));
drawLegend(groups[1], purkNames.map(function(d, i) {
    return {i: i, x1: 15, x2: 38, tx: 60, y: 521 + i * 22.45};
}));
drawLegend(groups[2], ventNames.map(function(d, i) {
    var c = i < 17 ? 0 : 1, k = i % 17;
    return {i: i, x1: c ? 238 : 14, x2: c ? 261 : 36, tx: c ? 283 : 58, y: 1073.3 + k * 22.46};
}));
</script>
</body>
</html>
